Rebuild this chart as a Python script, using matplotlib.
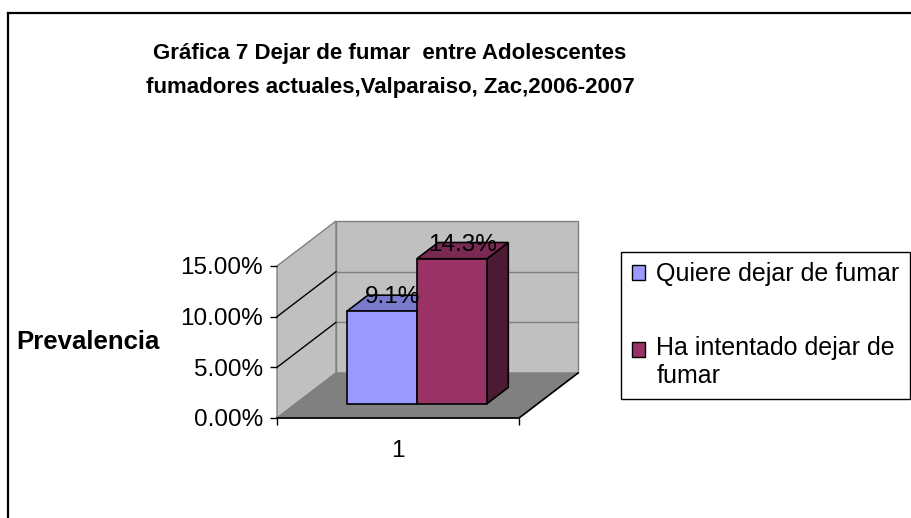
import matplotlib.pyplot as plt
from matplotlib.patches import Polygon, Patch, Rectangle
from matplotlib.lines import Line2D
from matplotlib.legend_handler import HandlerPatch

plt.rcParams['font.family'] = ['Liberation Sans', 'DejaVu Sans']

# datos
series = ['Quiere dejar de fumar', 'Ha intentado dejar de\nfumar']
valores = [0.091, 0.143]
etiquetas = ['9.1%', '14.3%']
categorias = ['1']
yticks = [0.0, 0.05, 0.10, 0.15]
ytick_labels = ['0.00%', '5.00%', '10.00%', '15.00%']

frente = ['#9999FF', '#993366']
arriba = ['#7A7ACC', '#7A2952']
lado = ['#6B6BB3', '#4D1A33']

W, H = 912, 518
fig = plt.figure(figsize=(W / 100, H / 100), dpi=100)
ax = fig.add_axes([277 / W, 1 - 418 / H, 242 / W, 152 / H])
ax.set_xlim(0, 1)
ax.set_ylim(0, 0.15)

# desplazamiento de profundidad (vista oblicua tipo Excel)
DX = 59 / 242
DY = 45 / 152 * 0.15


def p(x, y, t):
    return (x + t * DX, y + t * DY)


def cara(pts, fc, ec, lw=1.0, z=1):
    ax.add_patch(Polygon(pts, closed=True, facecolor=fc, edgecolor=ec,
                         lw=lw, clip_on=False, zorder=z))


ymax = yticks[-1]
# paredes y piso
cara([p(0, 0, 1), p(1, 0, 1), p(1, ymax, 1), p(0, ymax, 1)], '#C0C0C0', '#808080')
cara([p(0, 0, 0), p(0, 0, 1), p(0, ymax, 1), p(0, ymax, 0)], '#C0C0C0', '#808080')
cara([p(0, 0, 0), p(1, 0, 0), p(1, 0, 1), p(0, 0, 1)], '#808080', '#808080')

for v in yticks[1:-1]:
    a, b = p(0, v, 1), p(1, v, 1)
    ax.plot([a[0], b[0]], [a[1], b[1]], color='#808080', lw=1, clip_on=False, zorder=2)
    a, b = p(0, v, 0), p(0, v, 1)
    ax.plot([a[0], b[0]], [a[1], b[1]], color='black', lw=1, clip_on=False, zorder=2)

pts = [p(0, 0, 0), p(1, 0, 0), p(1, 0, 1)]
ax.plot([q[0] for q in pts], [q[1] for q in pts], color='black', lw=1.2,
        clip_on=False, zorder=2)

# barras
ancho = 0.29
t0, t1 = 0.32, 0.68
centro_cat = 0.5
for i, v in enumerate(valores):
    c = centro_cat + (i - 0.5) * ancho
    x0, x1 = c - ancho / 2, c + ancho / 2
    z = 3 + i
    cara([p(x1, 0, t0), p(x1, 0, t1), p(x1, v, t1), p(x1, v, t0)], lado[i], 'black', 1.2, z)
    cara([p(x0, v, t0), p(x1, v, t0), p(x1, v, t1), p(x0, v, t1)], arriba[i], 'black', 1.2, z)
    cara([p(x0, 0, t0), p(x1, 0, t0), p(x1, v, t0), p(x0, v, t0)], frente[i], 'black', 1.2, z)
    tx, ty = p(c, v, 0.5)
    ax.text(tx, ty, etiquetas[i], ha='center', va='baseline', fontsize=17.5, zorder=10)

# ejes
for s in ax.spines.values():
    s.set_visible(False)
ax.set_yticks(yticks)
ax.set_yticklabels(ytick_labels, fontsize=17.5)
ax.tick_params(axis='y', length=5, width=1, pad=5)
ax.set_xticks([0, 1])
ax.set_xticklabels(['', ''])
ax.tick_params(axis='x', which='major', length=5, width=1)
ax.set_xticks([centro_cat], minor=True)
ax.set_xticklabels(categorias, minor=True, fontsize=17.5)
ax.tick_params(axis='x', which='minor', length=0, pad=16)
ax.patch.set_visible(False)

ax.set_ylabel('Prevalencia', rotation=0, fontsize=18.5, fontweight='bold',
              ha='center', va='center')
ax.yaxis.set_label_coords((88 - 277) / 242, 0.5)

fig.text(390 / W, 1 - 70.5 / H,
         'Gráfica 7 Dejar de fumar  entre Adolescentes\nfumadores actuales,Valparaiso, Zac,2006-2007',
         ha='center', va='center', fontsize=16, fontweight='bold', linespacing=1.75)


# el cuadrito de la serie de dos renglones va junto al primer renglon
def cuadro_arriba(legend, orig_handle, xdescent, ydescent, width, height, fontsize):
    return Rectangle((-xdescent, -ydescent + 0.56 * fontsize), width, height)


handles = [Patch(facecolor=frente[i], edgecolor='black', lw=1) for i in range(len(series))]
leg = fig.legend(handles, series, loc='upper left', bbox_to_anchor=(621 / W, 1 - 252 / H),
                 bbox_transform=fig.transFigure, borderaxespad=0, fontsize=18,
                 frameon=True, fancybox=False, edgecolor='black', framealpha=1,
                 handlelength=0.55, handleheight=0.55, handletextpad=0.45,
                 labelspacing=2.0, borderpad=0.42,
                 handler_map={handles[1]: HandlerPatch(patch_func=cuadro_arriba)})
leg.get_frame().set_linewidth(1)

# marco del area del grafico
fig.add_artist(Line2D([8 / W, 8 / W], [0, 1 - 13 / H], color='black', lw=1.6))
fig.add_artist(Line2D([8 / W, 1], [1 - 13 / H, 1 - 13 / H], color='black', lw=1.6))

fig.savefig('out.png', dpi=100)
